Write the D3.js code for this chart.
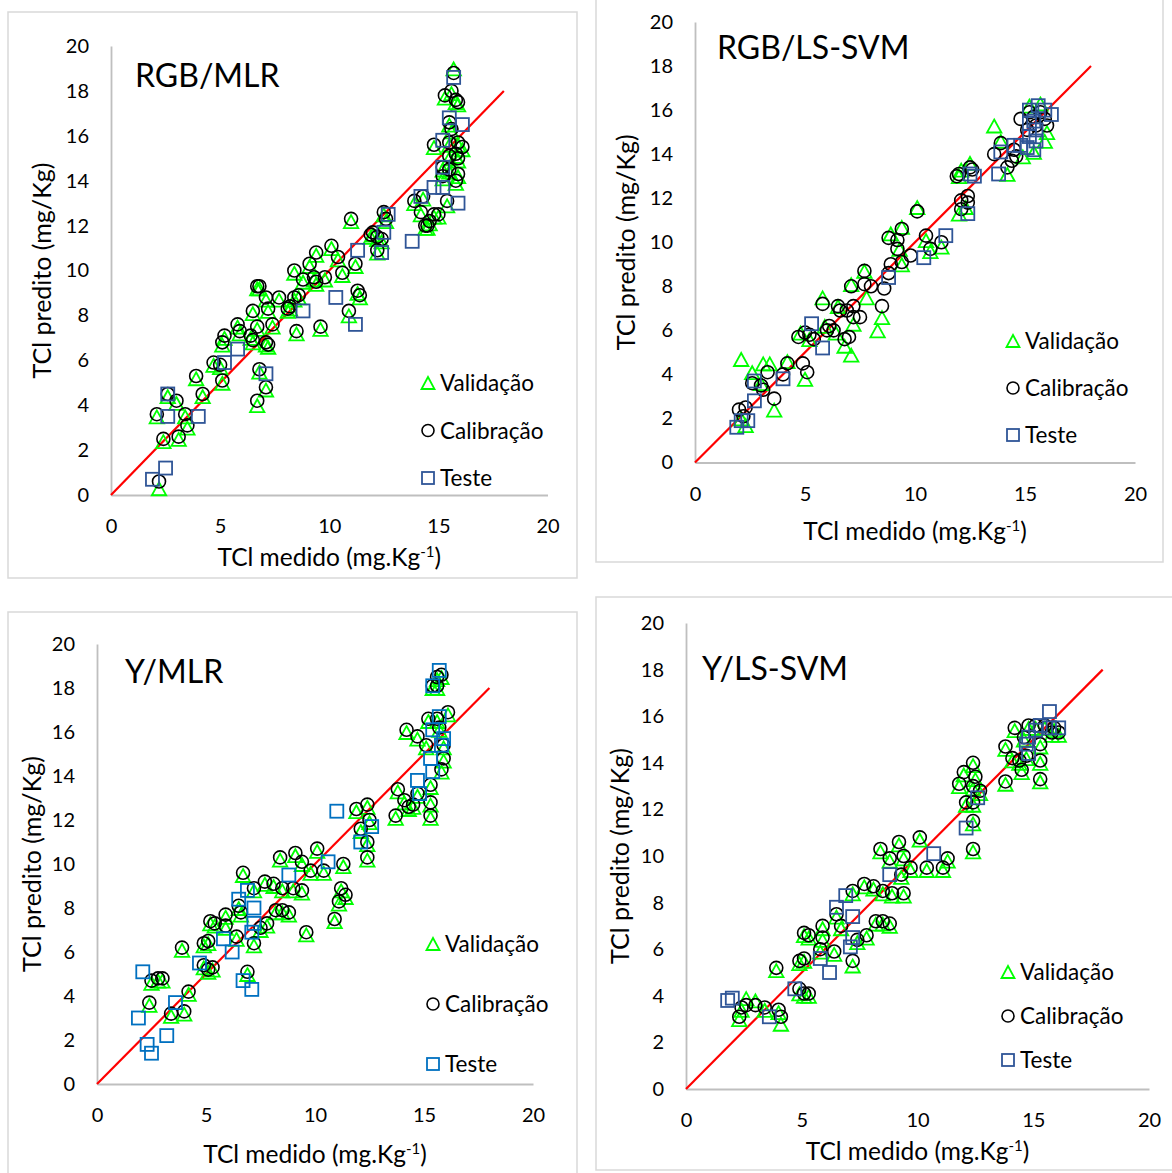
<!DOCTYPE html>
<html>
<head>
<meta charset="utf-8">
<script src="https://cdn.jsdelivr.net/npm/d3@7"></script>
<style>
  body { margin: 0; background: #fff; }
  svg text { font-family: Lato, "Noto Sans", sans-serif; fill: #000; }
</style>
</head>
<body>
<svg id="chart" width="1172" height="1173"></svg>
<script>
'use strict';

// [TCl medido, TCl predito]
const rgbMlrVal = [[15.7,19.0],[15.3,17.7],[15.6,17.9],[15.8,17.5],[15.9,17.4],[15.5,16.5],[15.6,16.2],[14.8,15.5],[15.5,15.6],[15.9,15.6],[16.1,15.4],[15.8,15.1],[15.9,14.9],[15.5,15.0],[15.2,14.5],[15.5,14.4],[15.9,14.2],[15.8,13.9],[15.2,14.1],[13.9,13.0],[14.3,13.2],[15.4,12.9],[14.2,12.5],[14.8,12.4],[14.6,12.1],[14.4,11.9],[14.5,11.9],[15.0,12.4],[12.5,12.5],[12.6,12.2],[12.0,11.6],[11.9,11.5],[12.2,11.4],[12.4,11.3],[12.2,10.8],[11.0,12.2],[10.1,11.0],[10.4,10.5],[11.2,10.2],[10.6,9.8],[9.4,10.7],[9.1,10.2],[8.4,9.9],[8.8,9.5],[9.3,9.6],[9.8,9.6],[9.4,9.4],[8.6,8.8],[8.4,8.7],[11.3,9.0],[11.4,8.8],[10.9,8.0],[9.6,7.4],[8.5,7.2],[8.2,8.3],[8.1,8.2],[7.7,8.7],[7.1,8.7],[6.7,9.2],[6.8,9.2],[6.5,8.1],[7.2,8.2],[7.4,7.5],[6.7,7.4],[5.8,7.5],[5.9,7.2],[5.2,7.0],[5.1,6.7],[6.4,7.0],[6.5,6.8],[7.1,6.7],[7.2,6.6],[4.7,5.8],[5.0,5.7],[5.1,5.0],[6.8,5.5],[7.1,4.7],[6.7,4.0],[3.9,5.2],[4.2,4.4],[2.6,4.4],[3.0,4.1],[2.1,3.5],[3.4,3.5],[3.5,3.0],[2.4,2.4],[3.1,2.5],[2.2,0.3]];
const rgbMlrCal = [[15.7,18.8],[15.3,17.8],[15.6,18.0],[15.8,17.6],[15.9,17.5],[15.5,16.6],[15.6,16.3],[14.8,15.6],[15.5,15.7],[15.9,15.7],[16.1,15.5],[15.8,15.2],[15.9,15.0],[15.5,15.1],[15.2,14.6],[15.5,14.5],[15.9,14.3],[15.8,14.0],[15.2,14.2],[13.9,13.1],[14.3,13.3],[15.4,13.1],[14.2,12.6],[14.8,12.5],[14.6,12.2],[14.4,12.0],[14.5,12.0],[15.0,12.5],[12.5,12.6],[12.6,12.3],[12.0,11.7],[11.9,11.6],[12.2,11.5],[12.4,11.4],[12.2,10.9],[11.0,12.3],[10.1,11.1],[10.4,10.6],[11.2,10.3],[10.6,9.9],[9.4,10.8],[9.1,10.3],[8.4,10.0],[8.8,9.6],[9.3,9.7],[9.8,9.7],[9.4,9.5],[8.6,8.9],[8.4,8.8],[11.3,9.1],[11.4,8.9],[10.9,8.2],[9.6,7.5],[8.5,7.3],[8.2,8.4],[8.1,8.3],[7.7,8.8],[7.1,8.8],[6.7,9.3],[6.8,9.3],[6.5,8.2],[7.2,8.3],[7.4,7.6],[6.7,7.5],[5.8,7.6],[5.9,7.3],[5.2,7.1],[5.1,6.8],[6.4,7.1],[6.5,6.9],[7.1,6.8],[7.2,6.7],[4.7,5.9],[5.0,5.8],[5.1,5.1],[6.8,5.6],[7.1,4.8],[6.7,4.2],[3.9,5.3],[4.2,4.5],[2.6,4.5],[3.0,4.2],[2.1,3.6],[3.4,3.6],[3.5,3.1],[2.4,2.5],[3.1,2.6],[2.2,0.6]];
const rgbMlrTest = [[15.7,18.6],[15.5,16.8],[16.1,16.5],[15.2,15.8],[15.2,14.6],[14.8,13.7],[15.2,13.7],[14.2,13.3],[15.9,13.0],[12.7,12.5],[12.5,11.7],[12.4,10.8],[13.8,11.3],[11.3,10.9],[10.3,8.8],[11.2,7.6],[8.8,8.2],[5.8,6.5],[5.2,5.9],[7.1,5.4],[2.6,4.5],[2.6,3.5],[4.0,3.5],[2.5,1.2],[1.9,0.7]];

const rgbSvmVal = [[15.2,16.2],[15.7,16.3],[16.0,15.0],[15.9,14.6],[13.6,15.3],[13.9,14.6],[15.4,14.1],[14.9,13.9],[14.2,13.1],[12.5,13.6],[12.1,13.3],[12.0,13.0],[12.3,11.6],[12.0,11.3],[10.1,11.6],[9.4,10.7],[8.9,10.4],[10.5,10.1],[10.7,9.6],[11.2,9.8],[9.3,9.7],[9.4,9.0],[7.7,8.7],[7.1,8.1],[7.8,7.5],[8.5,6.6],[5.8,7.5],[6.5,7.1],[7.2,6.3],[5.9,6.2],[6.4,5.9],[4.8,5.9],[5.2,5.6],[6.8,5.3],[7.1,4.9],[2.1,4.7],[3.1,4.5],[3.4,4.5],[4.2,4.6],[5.0,3.8],[2.6,4.1],[3.0,3.6],[3.6,2.4],[2.3,1.7],[2.1,2.0],[8.3,6.0]];
const rgbSvmCal = [[15.2,15.9],[15.4,15.7],[15.7,15.9],[15.9,15.6],[16.0,15.3],[14.8,15.6],[15.5,15.3],[15.1,15.1],[13.9,14.5],[13.6,14.0],[14.5,14.2],[14.6,13.9],[14.4,13.7],[14.2,13.4],[12.5,13.4],[12.6,13.3],[11.9,13.0],[12.0,13.1],[12.4,12.1],[12.1,11.9],[12.4,11.8],[12.1,11.5],[10.1,11.4],[9.4,10.6],[8.8,10.2],[9.2,10.1],[9.2,9.7],[10.5,10.3],[10.7,9.7],[11.2,10.0],[9.8,9.4],[9.4,9.1],[8.9,9.0],[8.8,8.6],[7.7,8.7],[7.1,8.0],[7.7,8.1],[8.0,8.0],[8.6,7.9],[8.5,7.1],[7.2,7.1],[6.5,7.1],[6.6,6.9],[6.9,6.9],[7.2,6.6],[7.5,6.6],[5.8,7.2],[6.1,6.2],[6.0,6.0],[6.3,6.0],[5.0,5.9],[4.7,5.7],[5.2,5.8],[5.4,5.6],[6.8,5.6],[7.0,5.7],[4.9,4.5],[5.1,4.1],[4.2,4.5],[3.3,4.1],[4.0,4.0],[2.6,3.6],[3.0,3.5],[3.1,3.3],[3.6,2.9],[2.0,2.4],[2.3,2.5],[2.2,2.1]];
const rgbSvmTest = [[15.2,16.0],[15.6,16.2],[15.9,16.0],[16.2,15.8],[15.4,15.5],[15.2,15.4],[15.5,15.1],[15.2,14.8],[15.5,14.6],[14.5,14.4],[14.8,14.4],[13.9,14.1],[15.4,14.2],[15.1,14.3],[13.8,13.1],[12.5,13.1],[12.7,13.0],[12.4,11.3],[11.4,10.3],[10.4,9.3],[8.8,8.4],[5.3,6.3],[5.8,5.2],[4.0,3.8],[2.7,3.7],[2.7,2.8],[2.4,1.9],[2.1,1.9],[1.9,1.6]];

const yMlrVal = [[15.6,18.4],[15.8,18.5],[15.4,18.0],[15.6,18.0],[16.1,16.8],[15.2,16.5],[15.6,16.5],[15.7,16.1],[14.2,16.0],[14.7,15.7],[15.1,15.3],[15.9,15.3],[15.9,14.7],[15.8,14.2],[15.3,13.5],[13.8,13.3],[14.7,13.1],[14.1,12.8],[14.3,12.5],[14.5,12.6],[15.3,12.7],[13.7,12.1],[15.3,12.1],[12.4,12.6],[11.9,12.4],[12.5,11.9],[12.1,11.5],[12.4,10.9],[12.4,10.2],[10.1,10.6],[9.1,10.4],[8.4,10.2],[9.4,10.0],[9.8,9.6],[10.4,9.6],[11.3,9.9],[11.2,8.8],[11.4,8.5],[11.1,8.2],[10.9,7.4],[9.6,6.8],[6.7,9.5],[7.7,9.1],[8.1,9.0],[8.5,8.8],[9.0,8.8],[9.4,8.7],[7.2,8.8],[6.5,8.0],[5.9,7.6],[5.2,7.3],[5.4,7.2],[5.9,7.1],[6.6,7.7],[7.8,7.2],[7.5,7.0],[8.2,7.8],[8.5,7.8],[8.8,7.7],[6.4,6.6],[7.2,6.3],[4.9,6.3],[5.1,6.4],[3.9,6.1],[4.9,5.3],[5.3,5.2],[5.1,5.1],[6.9,5.0],[2.5,4.6],[2.8,4.7],[3.0,4.7],[4.2,4.1],[2.4,3.6],[3.4,3.1],[4.0,3.2]];
const yMlrCal = [[15.6,18.5],[15.8,18.6],[15.4,18.1],[15.6,18.1],[16.1,16.9],[15.2,16.6],[15.6,16.6],[15.7,16.2],[14.2,16.1],[14.7,15.8],[15.1,15.4],[15.9,15.4],[15.9,14.8],[15.8,14.3],[15.3,13.6],[13.8,13.4],[14.7,13.2],[14.1,12.9],[14.3,12.6],[14.5,12.7],[15.3,12.8],[13.7,12.2],[15.3,12.2],[12.4,12.7],[11.9,12.5],[12.5,12.0],[12.1,11.6],[12.4,11.0],[12.4,10.3],[10.1,10.7],[9.1,10.5],[8.4,10.3],[9.4,10.1],[9.8,9.7],[10.4,9.7],[11.3,10.0],[11.2,8.9],[11.4,8.6],[11.1,8.3],[10.9,7.5],[9.6,6.9],[6.7,9.6],[7.7,9.2],[8.1,9.1],[8.5,8.9],[9.0,8.9],[9.4,8.8],[7.2,8.9],[6.5,8.1],[5.9,7.7],[5.2,7.4],[5.4,7.3],[5.9,7.2],[6.6,7.8],[7.8,7.3],[7.5,7.1],[8.2,7.9],[8.5,7.9],[8.8,7.8],[6.4,6.7],[7.2,6.4],[4.9,6.4],[5.1,6.5],[3.9,6.2],[4.9,5.4],[5.3,5.3],[5.1,5.2],[6.9,5.1],[2.5,4.7],[2.8,4.8],[3.0,4.8],[4.2,4.2],[2.4,3.7],[3.4,3.2],[4.0,3.3]];
const yMlrTest = [[15.7,18.8],[15.4,18.1],[15.7,16.7],[15.4,16.1],[15.9,15.7],[15.8,15.4],[15.3,14.8],[15.4,14.2],[14.7,13.8],[14.8,13.2],[11.0,12.4],[12.6,11.7],[12.1,11.0],[10.6,10.1],[8.8,9.5],[6.9,8.8],[6.5,8.4],[7.2,8.0],[7.2,7.3],[7.1,6.9],[5.8,6.6],[6.2,6.0],[4.7,5.5],[2.1,5.1],[6.7,4.7],[7.1,4.3],[3.6,3.7],[1.9,3.0],[3.2,2.2],[2.3,1.8],[2.5,1.4]];

const ySvmVal = [[14.2,15.4],[14.8,15.5],[15.1,15.5],[15.5,15.5],[15.9,15.4],[16.1,15.2],[15.8,15.2],[13.8,14.6],[15.3,14.7],[14.6,15.0],[14.1,14.1],[14.4,14.0],[14.7,14.2],[14.5,13.6],[15.3,14.0],[15.3,13.2],[13.8,13.1],[12.4,13.9],[12.0,13.5],[12.5,13.3],[11.8,13.0],[12.4,12.9],[12.7,12.7],[12.1,12.2],[12.4,12.2],[12.4,11.4],[12.4,10.2],[10.1,10.7],[9.2,10.5],[8.4,10.2],[8.8,9.8],[9.4,9.9],[9.7,9.4],[10.4,9.4],[11.3,9.8],[11.1,9.4],[9.3,9.1],[7.2,8.4],[7.7,8.7],[8.1,8.6],[8.5,8.4],[8.9,8.3],[9.4,8.3],[6.5,7.4],[5.9,6.9],[8.2,7.1],[8.5,7.1],[8.8,7.0],[6.7,6.9],[5.1,6.6],[5.3,6.5],[5.9,6.4],[7.8,6.5],[7.4,6.3],[5.8,5.9],[6.4,5.8],[4.9,5.4],[5.1,5.5],[7.2,5.3],[3.9,5.1],[4.9,4.1],[5.1,4.0],[5.3,4.0],[2.4,3.4],[2.6,3.9],[3.0,3.8],[3.4,3.4],[2.3,3.0],[4.0,3.3],[4.1,2.8]];
const ySvmCal = [[14.2,15.5],[14.8,15.6],[15.1,15.6],[15.5,15.6],[15.9,15.5],[16.1,15.3],[15.8,15.3],[13.8,14.7],[15.3,14.8],[14.6,15.1],[14.1,14.2],[14.4,14.1],[14.7,14.3],[14.5,13.7],[15.3,14.1],[15.3,13.3],[13.8,13.2],[12.4,14.0],[12.0,13.6],[12.5,13.4],[11.8,13.1],[12.4,13.0],[12.7,12.8],[12.1,12.3],[12.4,12.3],[12.4,11.5],[12.4,10.3],[10.1,10.8],[9.2,10.6],[8.4,10.3],[8.8,9.9],[9.4,10.0],[9.7,9.5],[10.4,9.5],[11.3,9.9],[11.1,9.5],[9.3,9.2],[7.2,8.5],[7.7,8.8],[8.1,8.7],[8.5,8.5],[8.9,8.4],[9.4,8.4],[6.5,7.5],[5.9,7.0],[8.2,7.2],[8.5,7.2],[8.8,7.1],[6.7,7.0],[5.1,6.7],[5.3,6.6],[5.9,6.5],[7.8,6.6],[7.4,6.4],[5.8,6.0],[6.4,5.9],[4.9,5.5],[5.1,5.6],[7.2,5.5],[3.9,5.2],[4.9,4.3],[5.1,4.1],[5.3,4.1],[2.4,3.5],[2.6,3.6],[3.0,3.6],[3.4,3.5],[2.3,3.1],[4.0,3.4],[4.1,3.1]];
const ySvmTest = [[15.7,16.2],[15.3,15.6],[15.7,15.5],[16.1,15.5],[15.1,15.4],[14.8,15.1],[14.7,14.8],[14.8,14.4],[12.6,12.5],[12.1,11.2],[10.7,10.1],[8.8,9.2],[6.9,8.3],[6.5,7.8],[7.2,7.4],[7.2,6.5],[7.1,6.1],[5.8,5.6],[6.2,5.0],[4.7,4.3],[2.0,3.9],[1.8,3.8],[3.6,3.1]];

const axisTicks = [0, 2, 4, 6, 8, 10, 12, 14, 16, 18, 20];
const xTicks = [0, 5, 10, 15, 20];
const legendNames = ['Validação', 'Calibração', 'Teste'];
const identity = [0, 18];

const panels = [
  { title: 'RGB/MLR', val: rgbMlrVal, cal: rgbMlrCal, test: rgbMlrTest, testColor: '#2f5597',
    box: [8, 12, 569, 566], xr: [111, 547.5], yr: [495, 46], titlePos: [135, 87],
    yTitleX: 42, xTitleY: 566, legend: [428, 383, 47.5] },
  { title: 'RGB/LS-SVM', val: rgbSvmVal, cal: rgbSvmCal, test: rgbSvmTest, testColor: '#2f5597',
    box: [596, -20, 567, 582], xr: [695, 1135], yr: [462.5, 22], titlePos: [717, 59],
    yTitleX: 626, xTitleY: 540, legend: [1013, 341, 47] },
  { title: 'Y/MLR', val: yMlrVal, cal: yMlrCal, test: yMlrTest, testColor: '#0070c0',
    box: [8, 612, 569, 600], xr: [97, 533], yr: [1084, 644], titlePos: [125, 683],
    yTitleX: 32, xTitleY: 1163, legend: [433, 944, 60] },
  { title: 'Y/LS-SVM', val: ySvmVal, cal: ySvmCal, test: ySvmTest, testColor: '#2f5597',
    box: [596, 597, 600, 573], xr: [686, 1149], yr: [1089, 623], titlePos: [702, 680],
    yTitleX: 620, xTitleY: 1160, legend: [1008, 972, 44] }
];

const svg = d3.select('#chart');
const green = '#00ff00';

function triPath(cx, cy) {
  return 'M' + cx + ',' + (cy - 6) + 'L' + (cx + 7.2) + ',' + (cy + 7) + 'L' + (cx - 7.2) + ',' + (cy + 7) + 'Z';
}

function drawPanel(p) {
  const g = svg.append('g');

  g.append('rect')
    .attr('x', p.box[0]).attr('y', p.box[1])
    .attr('width', p.box[2]).attr('height', p.box[3])
    .attr('fill', '#fff')
    .attr('stroke', '#d9d9d9')
    .attr('stroke-width', 1.5);

  const x = d3.scaleLinear().domain([0, 20]).range(p.xr);
  const y = d3.scaleLinear().domain([0, 20]).range(p.yr);

  const yAxis = d3.axisLeft(y).tickValues(axisTicks).tickSize(0).tickPadding(22);
  const xAxis = d3.axisBottom(x).tickValues(xTicks).tickSize(0).tickPadding(24);

  const ya = g.append('g').attr('transform', 'translate(' + p.xr[0] + ',0)').call(yAxis);
  const xa = g.append('g').attr('transform', 'translate(0,' + p.yr[0] + ')').call(xAxis);
  [ya, xa].forEach(a => {
    a.select('.domain').attr('stroke', '#bfbfbf').attr('stroke-width', 1.8);
    a.selectAll('text').style('font-size', '20px').style('font-family', 'Lato, sans-serif').attr('fill', '#000');
  });

  // axis titles
  const cy = (p.yr[0] + p.yr[1]) / 2;
  g.append('text')
    .attr('transform', 'translate(' + p.yTitleX + ',' + cy + ') rotate(-90)')
    .attr('text-anchor', 'middle')
    .attr('dy', '0.35em')
    .style('font-size', '25px')
    .text('TCl predito (mg/Kg)');

  const xt = g.append('text')
    .attr('x', (p.xr[0] + p.xr[1]) / 2)
    .attr('y', p.xTitleY)
    .attr('text-anchor', 'middle')
    .style('font-size', '24.5px');
  xt.append('tspan').text('TCl medido (mg.Kg');
  xt.append('tspan').attr('dy', -9).style('font-size', '15px').text('-1');
  xt.append('tspan').attr('dy', 9).text(')');

  // 1:1 line
  g.append('line')
    .attr('x1', x(identity[0])).attr('y1', y(identity[0]))
    .attr('x2', x(identity[1])).attr('y2', y(identity[1]))
    .attr('stroke', '#ff0000')
    .attr('stroke-width', 2.2);

  // series
  g.append('g').selectAll('path')
    .data(p.val).enter()
    .append('path')
    .attr('d', d => triPath(x(d[0]), y(d[1])))
    .attr('fill', 'none')
    .attr('stroke', green)
    .attr('stroke-width', 1.8);

  g.append('g').selectAll('circle')
    .data(p.cal).enter()
    .append('circle')
    .attr('cx', d => x(d[0]))
    .attr('cy', d => y(d[1]))
    .attr('r', 6.5)
    .attr('fill', 'none')
    .attr('stroke', '#000')
    .attr('stroke-width', 1.6);

  g.append('g').selectAll('rect')
    .data(p.test).enter()
    .append('rect')
    .attr('x', d => x(d[0]) - 6.5)
    .attr('y', d => y(d[1]) - 6.5)
    .attr('width', 13)
    .attr('height', 13)
    .attr('fill', 'none')
    .attr('stroke', p.testColor)
    .attr('stroke-width', 1.8);

  // title
  g.append('text')
    .attr('x', p.titlePos[0])
    .attr('y', p.titlePos[1])
    .style('font-size', '32px')
    .text(p.title);

  // legend
  const [lx, ly, step] = p.legend;
  const leg = g.append('g');
  legendNames.forEach((name, i) => {
    const yy = ly + i * step;
    if (i === 0) {
      leg.append('path').attr('d', 'M' + lx + ',' + (yy - 6) + 'L' + (lx + 6.5) + ',' + (yy + 6) + 'L' + (lx - 6.5) + ',' + (yy + 6) + 'Z')
        .attr('fill', 'none').attr('stroke', green).attr('stroke-width', 1.8);
    } else if (i === 1) {
      leg.append('circle').attr('cx', lx).attr('cy', yy).attr('r', 6)
        .attr('fill', 'none').attr('stroke', '#000').attr('stroke-width', 1.6);
    } else {
      leg.append('rect').attr('x', lx - 6).attr('y', yy - 6).attr('width', 12).attr('height', 12)
        .attr('fill', 'none').attr('stroke', p.testColor).attr('stroke-width', 1.8);
    }
    leg.append('text')
      .attr('x', lx + 12)
      .attr('y', yy)
      .attr('dy', '0.36em')
      .style('font-size', '22.5px')
      .text(name);
  });
}

panels.forEach(drawPanel);
</script>
</body>
</html>
